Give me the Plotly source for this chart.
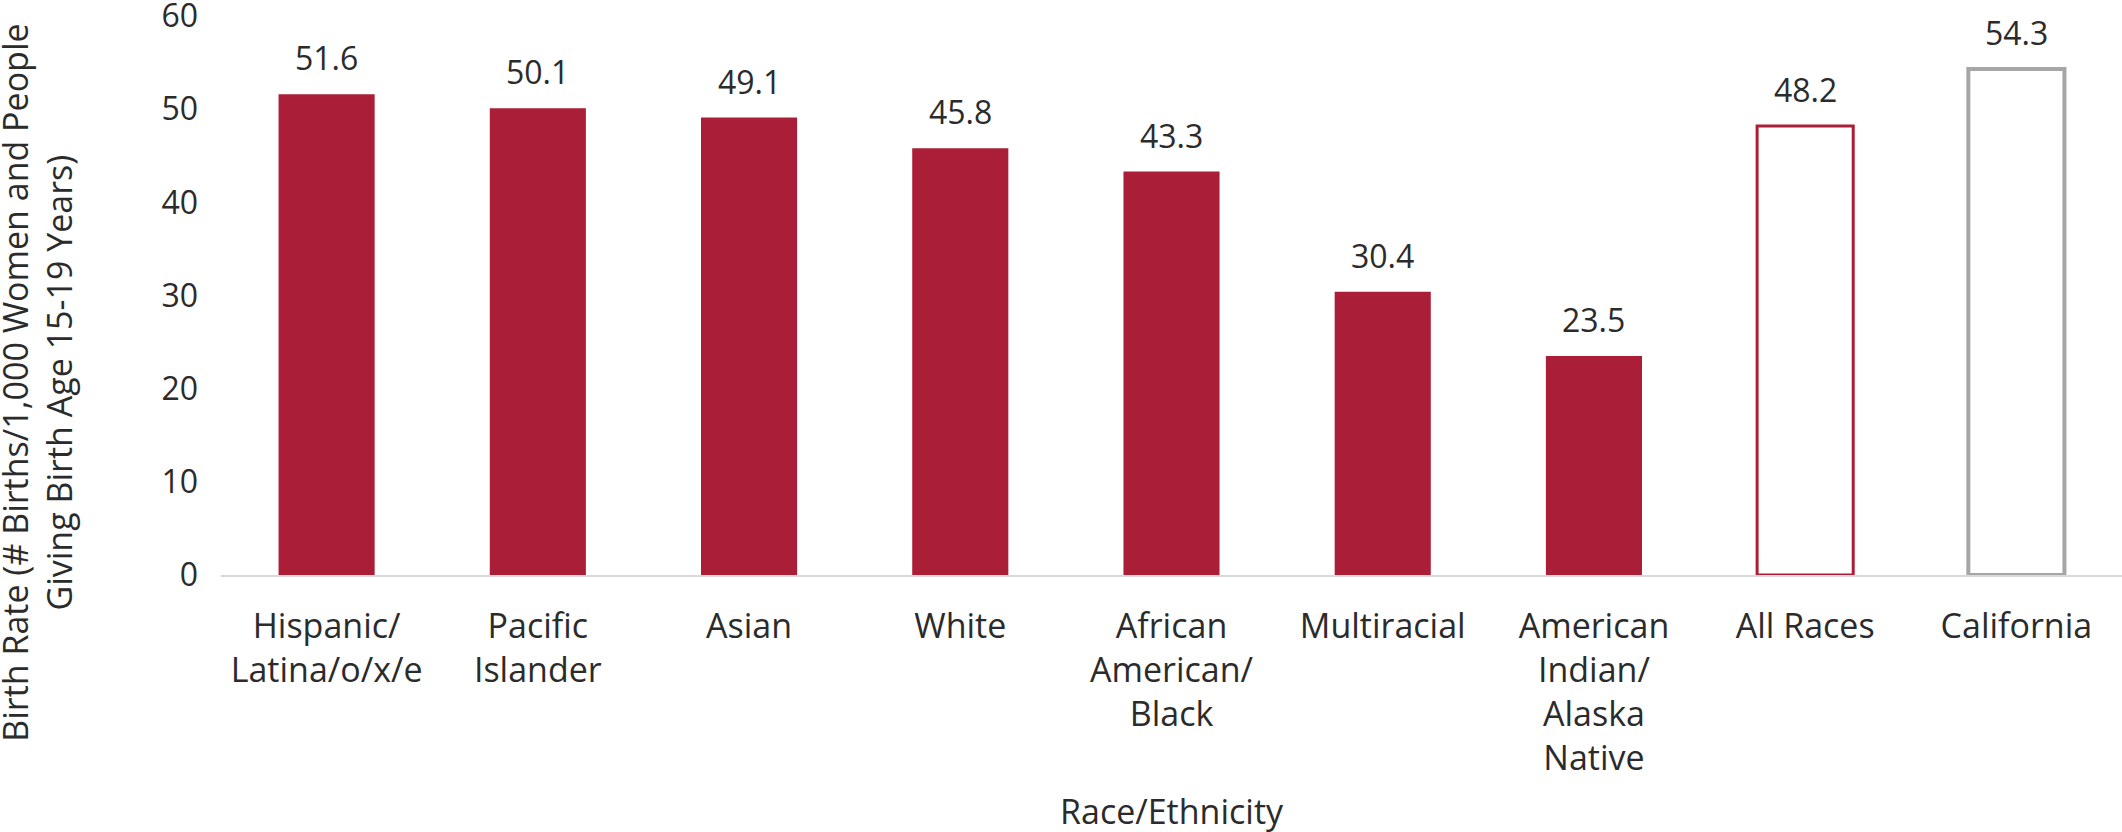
import plotly.graph_objects as go

categories = ["Hispanic/<br>Latina/o/x/e", "Pacific<br>Islander", "Asian", "White",
              "African<br>American/<br>Black", "Multiracial",
              "American<br>Indian/<br>Alaska<br>Native", "All Races", "California"]
values = [51.6, 50.1, 49.1, 45.8, 43.3, 30.4, 23.5, 48.2, 54.3]
value_labels = ["51.6", "50.1", "49.1", "45.8", "43.3", "30.4", "23.5", "48.2", "54.3"]
y_ticks = [0, 10, 20, 30, 40, 50, 60]

RED = "#AB1E38"
GRAY = "#A6A6A6"
TXT = "#2B2B2B"
FONT = "Open Sans, Noto Sans, sans-serif"

fills = [RED] * 7 + ["white", "white"]
lines = [RED] * 7 + [RED, GRAY]
lwidths = [0] * 7 + [3, 4]

fig = go.Figure()
fig.add_trace(go.Bar(
    x=categories, y=values,
    marker=dict(color=fills, line=dict(color=lines, width=lwidths)),
    hoverinfo="skip",
))

for c, v, t in zip(categories, values, value_labels):
    fig.add_annotation(x=c, y=v, text=t, showarrow=False, yanchor="bottom",
                       yshift=13, font=dict(size=32, color=TXT, family=FONT))

fig.add_annotation(xref="paper", yref="paper", x=-0.0965, y=0.343,
                   text="Birth Rate (# Births/1,000 Women and People<br>Giving Birth Age 15-19 Years)",
                   textangle=-90, showarrow=False, xanchor="center", yanchor="middle",
                   font=dict(size=34, color=TXT, family=FONT))
fig.add_annotation(xref="paper", yref="paper", x=0.5, y=-0.422,
                   text="Race/Ethnicity", showarrow=False, xanchor="center", yanchor="middle",
                   font=dict(size=34, color=TXT, family=FONT))

fig.update_layout(
    width=2122, height=832,
    margin=dict(l=221, r=0, t=16, b=257),
    paper_bgcolor="white", plot_bgcolor="white",
    bargap=0.545, showlegend=False,
    font=dict(family=FONT, size=32, color=TXT),
)
fig.update_xaxes(showline=True, linecolor="#D9D9D9", linewidth=2, ticks="",
                 tickfont=dict(size=34, color=TXT, family=FONT), ticklabelstandoff=20,
                 showgrid=False, automargin=False)
fig.update_yaxes(range=[0, 60], tickvals=y_ticks, showgrid=False, zeroline=False,
                 showline=False, ticks="", tickfont=dict(size=32, color=TXT, family=FONT),
                 ticklabelstandoff=22, ticklabeloverflow="allow", automargin=False)

fig.write_html("out.html", config={"displayModeBar": False},
               post_script="document.body.style.margin='0';")
